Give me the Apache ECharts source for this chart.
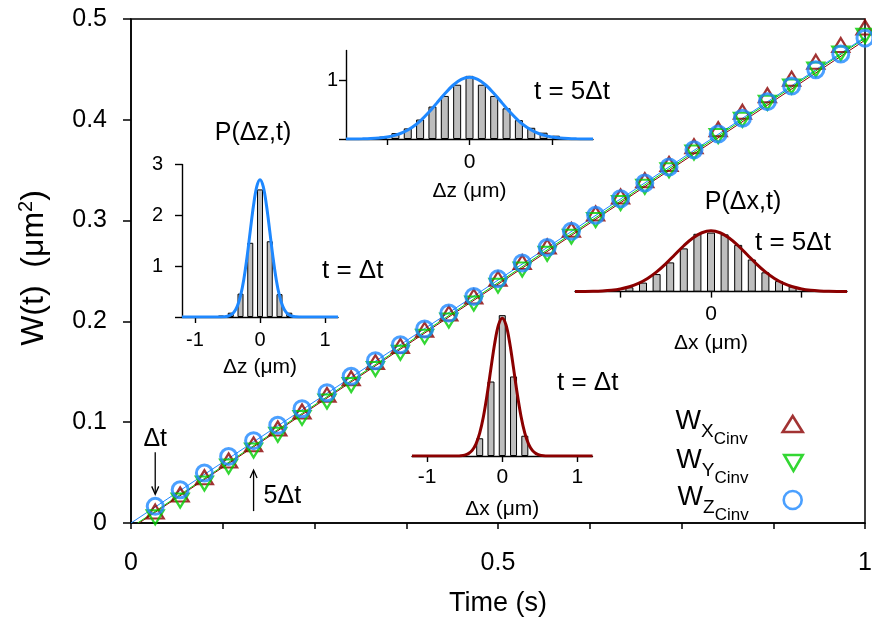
<!DOCTYPE html>
<html>
<head>
<meta charset="utf-8">
<script src="https://cdn.jsdelivr.net/npm/echarts@6/dist/echarts.min.js"></script>
<style>
  html, body { margin: 0; padding: 0; background: #ffffff; }
  #chart { width: 872px; height: 624px; }
</style>
</head>
<body>
<div id="chart"></div>
<script>
// ---- Mean-square displacement W(t) for the three axes ----
const timeValues = [0.033, 0.067, 0.100, 0.133, 0.167, 0.200, 0.233, 0.267, 0.300, 0.333,
                    0.367, 0.400, 0.433, 0.467, 0.500, 0.533, 0.567, 0.600, 0.633, 0.667,
                    0.700, 0.733, 0.767, 0.800, 0.833, 0.867, 0.900, 0.933, 0.967, 1.000];
const wX = [0.0090, 0.0260, 0.0431, 0.0597, 0.0757, 0.0914, 0.1083, 0.1248, 0.1412, 0.1573,
            0.1734, 0.1895, 0.2056, 0.2225, 0.2401, 0.2565, 0.2721, 0.2885, 0.3047, 0.3217,
            0.3378, 0.3539, 0.3715, 0.3883, 0.4056, 0.4220, 0.4385, 0.4552, 0.4718, 0.4892];
const wY = [0.0079, 0.0247, 0.0416, 0.0583, 0.0743, 0.0898, 0.1066, 0.1228, 0.1393, 0.1551,
            0.1713, 0.1872, 0.2033, 0.2201, 0.2378, 0.2539, 0.2695, 0.2864, 0.3028, 0.3198,
            0.3359, 0.3523, 0.3698, 0.3862, 0.4023, 0.4192, 0.4353, 0.4521, 0.4682, 0.4856];
const wZ = [0.0165, 0.0330, 0.0496, 0.0660, 0.0817, 0.0969, 0.1134, 0.1293, 0.1455, 0.1610,
            0.1769, 0.1925, 0.2083, 0.2248, 0.2422, 0.2580, 0.2733, 0.2894, 0.3052, 0.3217,
            0.3373, 0.3532, 0.3703, 0.3860, 0.4016, 0.4180, 0.4335, 0.4497, 0.4653, 0.4810];

// straight-line fits, given by their two end points [t, W]
const fitX = [[0.011, 0], [1, 0.479]];
const fitY = [[0.009, 0], [1, 0.481]];
const fitZ = [[0, 0], [1, 0.482]];

const mainXLabels = [0, 0.5, 1];
const legendSubs = ['X', 'Y', 'Z'];

// ---- displacement histograms P(Δ, t) ----
const binsShort = [-0.6, -0.45, -0.3, -0.15, 0, 0.15, 0.3, 0.45, 0.6];
const histZ1 = [0.03, 0.085, 0.46, 1.46, 2.51, 1.49, 0.45, 0.085, 0.02];
const binsX1 = [-0.3, -0.15, 0, 0.15, 0.3];
const histX1 = [0.35, 1.47, 2.78, 1.57, 0.40];

const binsLong = [-1.05, -0.9, -0.75, -0.6, -0.45, -0.3, -0.15, 0, 0.15, 0.3, 0.45, 0.6, 0.75, 0.9, 1.05];
const histZ5 = [0.04, 0.10, 0.18, 0.33, 0.55, 0.73, 0.92, 1.07, 0.92, 0.73, 0.52, 0.32, 0.19, 0.107, 0.056];
const histX5 = [0.03, 0.074, 0.154, 0.30, 0.50, 0.74, 0.99, 1.01, 0.98, 0.80, 0.55, 0.33, 0.18, 0.086, 0.03];

// Gaussian fits sampled along Δ
const curveShortX = [-1.2, -0.9, -0.6, -0.55, -0.5, -0.45, -0.4, -0.35, -0.3, -0.25, -0.2, -0.15, -0.1, -0.05,
                     0, 0.05, 0.1, 0.15, 0.2, 0.25, 0.3, 0.35, 0.4, 0.45, 0.5, 0.55, 0.6, 0.9, 1.2];
const curveZ1 = [0, 0, 0.002, 0.005, 0.015, 0.040, 0.096, 0.210, 0.414, 0.734, 1.173, 1.690, 2.192, 2.563,
                 2.70, 2.563, 2.192, 1.690, 1.173, 0.734, 0.414, 0.210, 0.096, 0.040, 0.015, 0.005, 0.002, 0, 0];
const curveX1 = [0, 0, 0.002, 0.006, 0.018, 0.047, 0.111, 0.235, 0.450, 0.779, 1.222, 1.734, 2.227, 2.587,
                 2.72, 2.587, 2.227, 1.734, 1.222, 0.779, 0.450, 0.235, 0.111, 0.047, 0.018, 0.006, 0.002, 0, 0];
const curveLongX = [-1.5, -1.4, -1.3, -1.2, -1.1, -1.0, -0.9, -0.8, -0.7, -0.6, -0.5, -0.4, -0.3, -0.2, -0.1,
                    0, 0.1, 0.2, 0.3, 0.4, 0.5, 0.6, 0.7, 0.8, 0.9, 1.0, 1.1, 1.2, 1.3, 1.4, 1.5];
const curveZ5 = [0.0005, 0.0013, 0.0032, 0.0075, 0.0166, 0.034, 0.065, 0.117, 0.195, 0.304, 0.444, 0.604, 0.768, 0.911, 1.010,
                 1.045, 1.010, 0.911, 0.768, 0.604, 0.444, 0.304, 0.195, 0.117, 0.065, 0.034, 0.0166, 0.0075, 0.0032, 0.0013, 0.0005];
const curveX5 = [0.0009, 0.0023, 0.0053, 0.012, 0.024, 0.046, 0.083, 0.141, 0.225, 0.338, 0.476, 0.631, 0.785, 0.918, 1.008,
                 1.040, 1.008, 0.918, 0.785, 0.631, 0.476, 0.338, 0.225, 0.141, 0.083, 0.046, 0.024, 0.012, 0.0053, 0.0023, 0.0009];

// ---- styling ----
const FONT = 'Liberation Sans';
const RED = '#8b0000', GREEN = '#00cd00', BLUE = '#1e88ff', BAR = '#bebebe';
const TRI_W = 17, TRI_H = 14;
const DOWN_TRI = 'path://M0,0L20,0L10,17.32Z';

const pairs = (xs, ys) => xs.map((x, i) => [x, ys[i]]);

function insetX(gridIndex, min, max, ticks, labels, name, nameGap, fontSize, labelMargin) {
  return {
    gridIndex, type: 'value', min, max,
    axisLine: { show: true, onZero: false, lineStyle: { color: '#000', width: 1.4 } },
    axisTick: { show: true, length: 6, customValues: ticks, lineStyle: { color: '#000', width: 1.4 } },
    axisLabel: { show: true, customValues: labels, margin: labelMargin, color: '#000',
                 fontFamily: FONT, fontSize, formatter: v => String(v) },
    splitLine: { show: false },
    name, nameLocation: 'middle', nameGap,
    nameTextStyle: { color: '#000', fontFamily: FONT, fontSize: 21 }
  };
}
function insetY(gridIndex, max, show, ticks, labels, fontSize, labelMargin) {
  return {
    gridIndex, type: 'value', min: 0, max,
    axisLine: { show, onZero: false, lineStyle: { color: '#000', width: 1.4 } },
    axisTick: { show, length: 7, customValues: ticks, lineStyle: { color: '#000', width: 1.4 } },
    axisLabel: { show, customValues: labels, margin: labelMargin, color: '#000',
                 fontFamily: FONT, fontSize, formatter: v => String(v) },
    splitLine: { show: false }
  };
}
function histSeries(axisIndex, xs, ys, width) {
  return {
    type: 'bar', xAxisIndex: axisIndex, yAxisIndex: axisIndex,
    data: pairs(xs, ys), barWidth: width,
    itemStyle: { color: BAR, borderColor: '#000', borderWidth: 1 }, z: 3
  };
}
function curveSeries(axisIndex, xs, ys, color) {
  return {
    type: 'line', xAxisIndex: axisIndex, yAxisIndex: axisIndex,
    data: pairs(xs, ys), smooth: 0.35, showSymbol: false, symbol: 'none',
    lineStyle: { color, width: 3 }, z: 4
  };
}
function legendFor(name, sub, top, right, color, icon, w, h) {
  return {
    data: [{ name, icon }], orient: 'vertical', align: 'right',
    right, top, padding: 0, itemWidth: w, itemHeight: h, selectedMode: false,
    itemStyle: { color: 'rgba(0,0,0,0)', borderColor: color, borderWidth: 2.6 },
    formatter: () => '{w|W}{s|' + sub + '}{c|Cinv}',
    textStyle: {
      color: '#000', fontFamily: FONT,
      rich: {
        w: { fontSize: 27, padding: [8, 0, 0, 0], verticalAlign: 'top', fontFamily: FONT, color: '#000' },
        s: { fontSize: 19, padding: [22, 0, 0, 0], verticalAlign: 'top', fontFamily: FONT, color: '#000' },
        c: { fontSize: 17, padding: [31, 30, 0, 0], verticalAlign: 'top', fontFamily: FONT, color: '#000' }
      }
    }
  };
}

const chart = echarts.init(document.getElementById('chart'), null, { renderer: 'canvas' });

const option = {
  animation: false,
  backgroundColor: '#ffffff',
  textStyle: { fontFamily: FONT },
  grid: [
    { left: 131, top: 19, width: 734, height: 504, show: true, borderColor: '#000', borderWidth: 1.5, outerBoundsMode: 'none' },
    { left: 182, top: 164.5, width: 156, height: 152.5, outerBoundsMode: 'none' },
    { left: 346, top: 50.5, width: 247, height: 88.5, outerBoundsMode: 'none' },
    { left: 575, top: 204, width: 272, height: 87.6, outerBoundsMode: 'none' },
    { left: 412, top: 304, width: 180.5, height: 152, outerBoundsMode: 'none' }
  ],
  xAxis: [
    {
      gridIndex: 0, type: 'value', min: 0, max: 1, interval: 0.125,
      axisLine: { lineStyle: { color: '#000', width: 1.5 } },
      axisTick: { length: 6, lineStyle: { color: '#000', width: 1.5 } },
      axisLabel: { customValues: mainXLabels, margin: 28, color: '#000', fontFamily: FONT, fontSize: 25,
                   formatter: v => String(v) },
      splitLine: { show: false },
      name: 'Time (s)', nameLocation: 'middle', nameGap: 67,
      nameTextStyle: { color: '#000', fontFamily: FONT, fontSize: 27 }
    },
    insetX(1, -1.2, 1.2, [-1, 0, 1], [-1, 0, 1], 'Δz (μm)', 40, 20, 13),
    insetX(2, -1.5, 1.5, [-1, 0, 1], [0], 'Δz (μm)', 42, 21, 13),
    insetX(3, -1.5, 1.5, [-1, 0, 1], [0], 'Δx (μm)', 41, 21, 12),
    insetX(4, -1.2, 1.2, [-1, 0, 1], [-1, 0, 1], 'Δx (μm)', 43, 21, 11)
  ],
  yAxis: [
    {
      gridIndex: 0, type: 'value', min: 0, max: 0.5, interval: 0.1,
      axisLine: { lineStyle: { color: '#000', width: 1.5 } },
      axisTick: { length: 8, lineStyle: { color: '#000', width: 1.5 } },
      axisLabel: { margin: 24, color: '#000', fontFamily: FONT, fontSize: 25 },
      splitLine: { show: false }
    },
    insetY(1, 3, true, [0, 1, 2, 3], [1, 2, 3], 20, 19),
    insetY(2, 1.5, true, [0, 1], [1], 20, 8),
    insetY(3, 1.5, false, [], [], 20, 10),
    insetY(4, 3, false, [], [], 20, 10)
  ],
  legend: [
    legendFor('W_X', legendSubs[0], 408, 68, RED, 'triangle', 20, 16),
    legendFor('W_Y', legendSubs[1], 447, 68, GREEN, DOWN_TRI, 20, 16),
    legendFor('W_Z', legendSubs[2], 484, 69, BLUE, 'circle', 18, 18)
  ],
  series: [
    { type: 'line', name: 'fitX', data: fitX, showSymbol: false, symbol: 'none', lineStyle: { color: RED, width: 1 }, z: 2 },
    { type: 'line', name: 'fitY', data: fitY, showSymbol: false, symbol: 'none', lineStyle: { color: GREEN, width: 1 }, z: 2 },
    { type: 'line', name: 'fitZ', data: fitZ, showSymbol: false, symbol: 'none', lineStyle: { color: BLUE, width: 1 }, z: 2 },
    {
      type: 'scatter', name: 'W_X', data: pairs(timeValues, wX),
      symbol: 'triangle', symbolSize: [TRI_W, TRI_H], symbolOffset: [0, -TRI_H / 6],
      itemStyle: { color: 'rgba(0,0,0,0)', borderColor: RED, borderWidth: 2.2 }, z: 3
    },
    {
      type: 'scatter', name: 'W_Y', data: pairs(timeValues, wY),
      symbol: DOWN_TRI, symbolSize: [TRI_W, TRI_H], symbolOffset: [0, TRI_H / 6],
      itemStyle: { color: 'rgba(0,0,0,0)', borderColor: GREEN, borderWidth: 2.2 }, z: 4
    },
    {
      type: 'scatter', name: 'W_Z', data: pairs(timeValues, wZ),
      symbol: 'circle', symbolSize: 16,
      itemStyle: { color: 'rgba(0,0,0,0)', borderColor: BLUE, borderWidth: 3 }, z: 5
    },
    histSeries(1, binsShort, histZ1, 6),
    curveSeries(1, curveShortX, curveZ1, BLUE),
    histSeries(2, binsLong, histZ5, 8),
    curveSeries(2, curveLongX, curveZ5, BLUE),
    histSeries(3, binsLong, histX5, 8),
    curveSeries(3, curveLongX, curveX5, RED),
    histSeries(4, binsX1, histX1, 7),
    curveSeries(4, curveShortX, curveX1, RED)
  ]
};
chart.setOption(option);

// ---- annotations: titles, time labels and arrows pointing at Δt and 5Δt ----
const txt = (text, x, y, size, align) => ({
  type: 'text', silent: true,
  style: { text, x, y, fill: '#000', font: size + 'px "' + FONT + '"', align: align || 'left', verticalAlign: 'middle' }
});
const p1 = chart.convertToPixel({ gridIndex: 0 }, [timeValues[0], wZ[0]]);
const p5 = chart.convertToPixel({ gridIndex: 0 }, [timeValues[4], wY[4]]);
const arrowStyle = { stroke: '#000', lineWidth: 1.3, fill: 'none' };

chart.setOption({
  graphic: [
    {
      type: 'text', silent: true, x: 33, y: 268, rotation: Math.PI / 2,
      style: {
        text: '{a|W(t)  (μm}{b|2}{a|)}', align: 'center', verticalAlign: 'middle', fill: '#000',
        rich: {
          a: { fontSize: 32, lineHeight: 35, verticalAlign: 'bottom', fontFamily: FONT, fill: '#000' },
          b: { fontSize: 20, lineHeight: 20, padding: [0, 0, 14, 0], verticalAlign: 'bottom', fontFamily: FONT, fill: '#000' }
        }
      }
    },
    txt('P(Δz,t)', 253, 133, 25, 'center'),
    txt('t = Δt', 322, 271, 26),
    txt('t = 5Δt', 534, 92, 26),
    txt('P(Δx,t)', 743, 202, 25, 'center'),
    txt('t = 5Δt', 755, 243, 26),
    txt('t = Δt', 557, 383, 26),
    txt('Δt', p1[0], p1[1] - 67, 25, 'center'),
    txt('5Δt', p5[0] + 10, p5[1] + 48, 25),
    { type: 'line', silent: true, shape: { x1: p1[0], y1: p1[1] - 54, x2: p1[0], y2: p1[1] - 13 }, style: arrowStyle },
    { type: 'polyline', silent: true, shape: { points: [[p1[0] - 3.5, p1[1] - 20], [p1[0], p1[1] - 12], [p1[0] + 3.5, p1[1] - 20]] }, style: arrowStyle },
    { type: 'line', silent: true, shape: { x1: p5[0], y1: p5[1] + 63, x2: p5[0], y2: p5[1] + 23 }, style: arrowStyle },
    { type: 'polyline', silent: true, shape: { points: [[p5[0] - 3.5, p5[1] + 30], [p5[0], p5[1] + 22], [p5[0] + 3.5, p5[1] + 30]] }, style: arrowStyle }
  ]
});
</script>
</body>
</html>
